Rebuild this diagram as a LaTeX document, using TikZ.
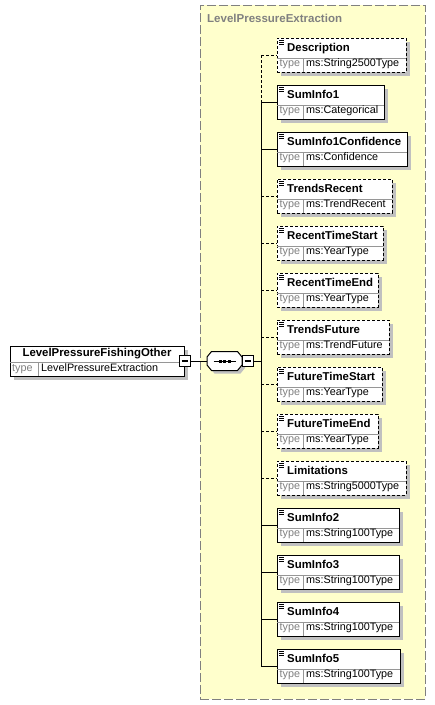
\documentclass[tikz,border=0pt]{standalone}
\usepackage{fontspec}
\setmainfont{Liberation Sans}
\definecolor{shadowgray}{RGB}{192,192,192}
\definecolor{sepgray}{RGB}{150,150,150}
\definecolor{typegray}{RGB}{128,128,128}
\definecolor{grpfill}{RGB}{255,255,204}
\definecolor{grpborder}{RGB}{128,128,128}
\tikzset{
 elbox/.style={draw=black, fill=white, line width=1pt, inner sep=0pt, outer sep=0pt, minimum height=34pt},
 optbox/.style={dash pattern=on 3pt off 2pt},
 reqbox/.style={},
 shade box/.style={fill=shadowgray},
 sepline/.style={draw=sepgray, line width=1pt},
 iconline/.style={line width=0.8pt},
 nametext/.style={inner sep=0pt, font=\fontsize{11.4}{13}\selectfont\bfseries},
 typelbl/.style={inner sep=0pt, text=typegray, font=\fontsize{10.8}{12}\selectfont},
 typeval/.style={inner sep=0pt, font=\fontsize{10.8}{12}\selectfont},
 optlink/.style={line width=1pt, dash pattern=on 3pt off 2pt},
 reqlink/.style={line width=1pt},
 minusbox/.style={draw=black, fill=white, line width=1pt, minimum size=11pt, inner sep=0pt, outer sep=0pt},
 container/.style={draw=grpborder, fill=grpfill, line width=1pt, dash pattern=on 9pt off 3pt, inner sep=0pt, outer sep=0pt},
 grptitle/.style={inner sep=0pt, text=typegray, font=\fontsize{11.5}{13}\selectfont\bfseries},
}
% #1 id, #2 top, #3 right, #4 box style, #5 name, #6 type, #7 link style
\newcommand\xelem[7]{%
  \fill[shade box] (281,#2+4) rectangle (#3+4,#2+38);
  \node[elbox,#4,minimum width=#3pt-277pt,anchor=north west] (#1) at (277,#2) {};
  \draw[sepline] (277,#2+20) -- (#3,#2+20) (303,#2+20) -- (303,#2+34);
  \draw[iconline] (279,#2+2) -- (284,#2+2) (279,#2+4) -- (284,#2+4) (279,#2+6) -- (284,#2+6);
  \node[nametext, anchor=base west] (#1n) at (287,#2+13.5) {#5};
  \node[typelbl, anchor=base west] (#1t) at (279.5,#2+28.5) {type};
  \node[typeval, anchor=base west] (#1v) at (306,#2+28.5) {#6};
  \draw[#7] (trunk |- #1.west) -- (#1.west);
}
\begin{document}
\begin{tikzpicture}[x=1pt,y=-1pt]
\useasboundingbox (0,0) rectangle (435,705);
\fill[white] (0,0) rectangle (435,705);
% container
\node[container, minimum width=225pt, minimum height=694pt, anchor=north west] (grp) at (200,5) {};
\node[grptitle, anchor=base west] (grpt) at (207,22.5) {LevelPressureExtraction};
\coordinate (trunk) at (261,0);
% children
\xelem{e1}{38}{406}{optbox}{Description}{ms:String2500Type}{optlink}
\xelem{e2}{85}{384}{reqbox}{SumInfo1}{ms:Categorical}{reqlink}
\xelem{e3}{132}{407}{reqbox}{SumInfo1Confidence}{ms:Confidence}{reqlink}
\xelem{e4}{179}{392}{optbox}{TrendsRecent}{ms:TrendRecent}{optlink}
\xelem{e5}{226}{383}{optbox}{RecentTimeStart}{ms:YearType}{optlink}
\xelem{e6}{273}{378}{optbox}{RecentTimeEnd}{ms:YearType}{optlink}
\xelem{e7}{320}{389}{optbox}{TrendsFuture}{ms:TrendFuture}{optlink}
\xelem{e8}{367}{382}{optbox}{FutureTimeStart}{ms:YearType}{optlink}
\xelem{e9}{414}{378}{optbox}{FutureTimeEnd}{ms:YearType}{optlink}
\xelem{e10}{461}{406}{optbox}{Limitations}{ms:String5000Type}{optlink}
\xelem{e11}{508}{399}{reqbox}{SumInfo2}{ms:String100Type}{reqlink}
\xelem{e12}{555}{399}{reqbox}{SumInfo3}{ms:String100Type}{reqlink}
\xelem{e13}{602}{399}{reqbox}{SumInfo4}{ms:String100Type}{reqlink}
\xelem{e14}{649}{400}{reqbox}{SumInfo5}{ms:String100Type}{reqlink}
% trunk
\draw[optlink] (trunk |- e1.west) -- (trunk |- e2.west);
\draw[reqlink] (trunk |- e2.west) -- (trunk |- e14.west);
% root element
\fill[shade box] (14,350) rectangle (188,380);
\node[elbox, minimum width=174pt, minimum height=30pt, anchor=north west] (root) at (10,346) {};
\draw[sepline] (10,362) -- (184,362) (38,362) -- (38,376);
\node[nametext, anchor=base] (rootn) at (97,356.5) {LevelPressureFishingOther};
\node[typelbl, anchor=base west] (roott) at (12,371.5) {type};
\node[typeval, anchor=base west] (rootv) at (41,371.5) {LevelPressureExtraction};
\node[minusbox] (rootm) at (184.5,361) {};
\draw[line width=1.2pt] ([xshift=2.5pt]rootm.west) -- ([xshift=-2.5pt]rootm.east);
% sequence compositor
\fill[shadowgray] (210,360) -- (214.5,354.5) -- (240.5,354.5) -- (245,360) -- (245,368) -- (240.5,373.5) -- (214.5,373.5) -- (210,368) -- cycle;
\draw[line width=1pt, fill=white] (207,357) -- (211.5,351.5) -- (237.5,351.5) -- (242,357) -- (242,365) -- (237.5,370.5) -- (211.5,370.5) -- (207,365) -- cycle;
\node[inner sep=0pt, outer sep=0pt, minimum width=35pt, minimum height=19pt] (seq) at (224.5,361) {};
\draw[line width=1pt] (213.5,361) -- (235.5,361);
\fill (218.5,359.5) rectangle (221.5,362.5);
\fill (223,359.5) rectangle (226,362.5);
\fill (227.5,359.5) rectangle (230.5,362.5);
\node[minusbox] (seqm) at (247.5,361) {};
\draw[line width=1.2pt] ([xshift=2.5pt]seqm.west) -- ([xshift=-2.5pt]seqm.east);
% connectors
\draw[reqlink] (rootm.east) -- (seq.west);
\draw[reqlink] (seqm.east) -- (trunk |- seqm.east);
\end{tikzpicture}
\end{document}
